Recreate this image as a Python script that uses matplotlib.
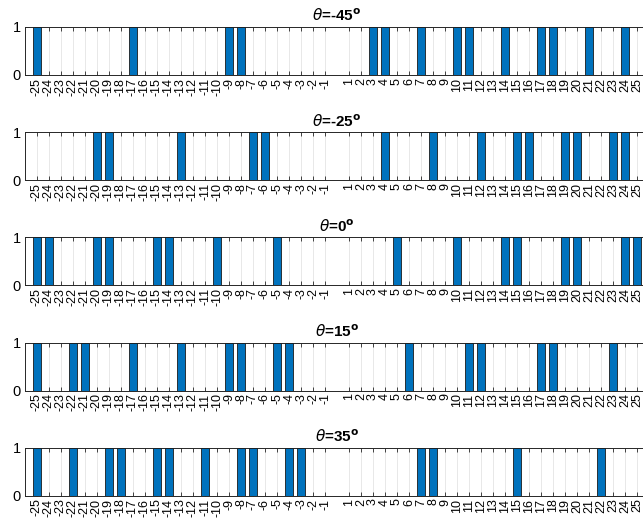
import numpy as np
import matplotlib.pyplot as plt

plt.rcParams['font.family'] = ['Liberation Sans', 'DejaVu Sans']

# tick positions: -25..-1 and 1..25 (no 0)
ticks = list(range(-25, 0)) + list(range(1, 26))

# angles and positions where the value is 1
angles = ["-45", "-25", "0", "15", "35"]
on_m45 = [-25, -17, -9, -8, 3, 4, 7, 10, 11, 14, 17, 18, 21, 24]
on_m25 = [-20, -19, -13, -7, -6, 4, 8, 12, 15, 16, 19, 20, 23, 24]
on_0 = [-25, -24, -20, -19, -15, -14, -10, -5, 5, 10, 14, 15, 19, 20, 24, 25]
on_15 = [-25, -22, -21, -17, -13, -9, -8, -5, -4, 6, 11, 12, 17, 18, 23]
on_35 = [-25, -22, -19, -18, -15, -14, -11, -8, -7, -4, -3, 7, 8, 15, 22]
series = [on_m45, on_m25, on_0, on_15, on_35]

W, H = 643, 521
fig = plt.figure(figsize=(W / 100, H / 100), dpi=100)

bar_color = '#0072BD'
spine_color = '#262626'

for i, (ang, pos) in enumerate(zip(angles, series)):
    top = 27 + 105.2 * i
    bottom = 75 + 105.2 * i
    ax = fig.add_axes([25 / W, 1 - bottom / H, 624 / W, (bottom - top) / H])

    ax.bar(pos, np.ones(len(pos)), width=0.6, color=bar_color,
           edgecolor='#1a1a1a', linewidth=0.6, zorder=3)

    ax.set_xlim(-26, 26)
    ax.set_ylim(0, 1)
    ax.set_xticks(ticks)
    ax.set_xticklabels([str(t) for t in ticks], rotation=90, fontsize=9)
    ax.set_yticks([0, 1])
    ax.set_yticklabels(['0', '1'], fontsize=10.5)

    ax.grid(axis='x', color='#e8e8e8', linewidth=0.7, zorder=0)
    ax.set_axisbelow(True)
    ax.tick_params(axis='x', direction='in', length=3, width=0.6, pad=2,
                   top=True, color=spine_color)
    ax.tick_params(axis='y', direction='in', length=3, width=0.6, pad=3,
                   right=True, color=spine_color)
    for s in ax.spines.values():
        s.set_color(spine_color)
        s.set_linewidth(0.7)

    ax.set_title(r'$\theta$=' + ang + r'$^{\mathbf{o}}$', fontsize=11,
                 fontweight='bold', pad=4)

fig.savefig('out.png', dpi=100)
